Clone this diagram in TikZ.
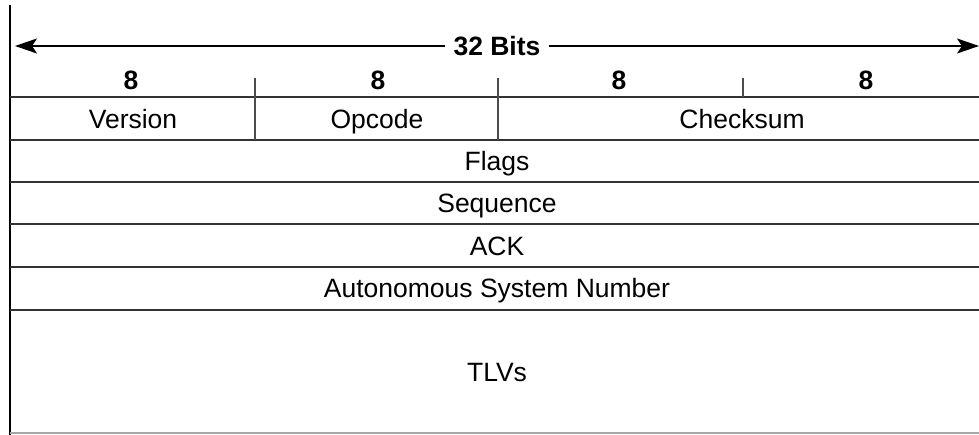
\documentclass[tikz,border=0pt]{standalone}
\usepackage{fontspec}
\setmainfont{Liberation Sans}
\usetikzlibrary{arrows.meta}
\begin{document}
\begin{tikzpicture}[x=1pt,y=-1pt,
  rule/.style={line width=1.4pt,draw=black!80},
  lbl/.style={inner sep=0pt,text height=19pt,text depth=0pt,font=\fontsize{26.5}{30}\selectfont},
  bitlbl/.style={inner sep=0pt,text height=19pt,text depth=0pt,font=\fontsize{26.5}{30}\selectfont\bfseries},
  tick/.style={line width=1.2pt,draw=black!70}]
\useasboundingbox (0,0) rectangle (979,435);
\fill[white] (0,0) rectangle (979,435);

% left border end points
\coordinate (lTop) at (10,5);
\coordinate (lBot) at (10,435);

% 32-bit span arrow
\coordinate (aL) at (15,46);
\coordinate (aR) at (979,46);
\node[bitlbl,fill=white,inner xsep=8pt,inner ysep=4pt] (bits) at (497,46) {32 Bits};
\draw[line width=1.6pt,-{Stealth[length=22pt,width=15pt,inset=5pt]}] (bits.east) -- (aR);
\draw[line width=1.6pt,-{Stealth[length=22pt,width=15pt,inset=5pt]}] (bits.west) -- (aL);

% octet labels
\node[bitlbl] (b1) at (131,80) {8};
\node[bitlbl] (b2) at (378,80) {8};
\node[bitlbl] (b3) at (619,80) {8};
\node[bitlbl] (b4) at (866,80) {8};

% left border
\draw[line width=2pt] (lTop) -- (lBot);

% horizontal row lines
\foreach \y/\n in {97/r0,140/r1,182/r2,224/r3,267/r4,310/r5}{
  \coordinate (\n l) at (10,\y);
  \coordinate (\n r) at (979,\y);
  \draw[rule] (\n l) -- (\n r);
}
\coordinate (r6l) at (10,433);
\coordinate (r6r) at (979,433);
\draw[line width=1.2pt,draw=black!35] (r6l) -- (r6r);

% octet boundaries
\coordinate (t1a) at (255,78); \coordinate (t1b) at (255,140);
\coordinate (t2a) at (498,78); \coordinate (t2b) at (498,140);
\coordinate (t3a) at (743,78); \coordinate (t3b) at (743,97);
\draw[tick] (t1a) -- (t1b);
\draw[tick] (t2a) -- (t2b);
\draw[tick] (t3a) -- (t3b);

% field names
\node[lbl] (ver) at (133,119) {Version};
\node[lbl] (op) at (377,119) {Opcode};
\node[lbl] (cks) at (742,119) {Checksum};
\node[lbl] (flg) at (497,161) {Flags};
\node[lbl] (seq) at (497,203) {Sequence};
\node[lbl] (ack) at (497,246) {ACK};
\node[lbl] (asn) at (497,288) {Autonomous System Number};
\node[lbl] (tlv) at (497,372) {TLVs};
\end{tikzpicture}
\end{document}
